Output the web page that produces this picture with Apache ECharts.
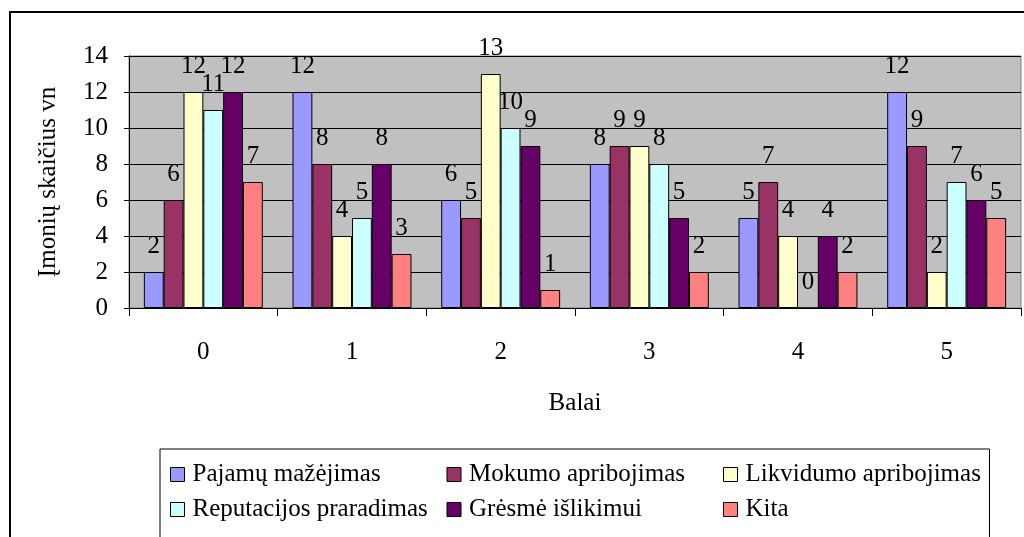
<!DOCTYPE html>
<html>
<head>
<meta charset="utf-8">
<script src="https://cdn.jsdelivr.net/npm/echarts@6/dist/echarts.min.js"></script>
<style>
  html, body { margin: 0; padding: 0; background: #fff; }
  #chart { width: 1024px; height: 537px; }
</style>
</head>
<body>
<div id="chart"></div>
<script>
// balai (x kategorijos)
const categories = ['0', '1', '2', '3', '4', '5'];
const seriesNames = ['Pajamų mažėjimas', 'Mokumo apribojimas', 'Likvidumo apribojimas',
  'Reputacijos praradimas', 'Grėsmė išlikimui', 'Kita'];
const pajamu = [2, 12, 6, 8, 5, 12];
const mokumo = [6, 8, 5, 9, 7, 9];
const likvidumo = [12, 4, 13, 9, 4, 2];
const reputacijos = [11, 5, 10, 8, 0, 7];
const gresme = [12, 8, 9, 5, 4, 6];
const kita = [7, 3, 1, 2, 2, 5];
const yTicks = [0, 2, 4, 6, 8, 10, 12, 14];

const colors = ['#9999FF', '#993366', '#FFFFCC', '#CCFFFF', '#660066', '#FF8080'];
const font = '"Liberation Serif", "Times New Roman", serif';
const fs = 25;
const allData = [pajamu, mokumo, likvidumo, reputacijos, gresme, kita];

const myChart = echarts.init(document.getElementById('chart'));
const option = {
  animation: false,
  color: colors,
  textStyle: { fontFamily: font, color: '#000' },
  graphic: [{
    type: 'rect',
    shape: { x: 10, y: 12, width: 1200, height: 700 },
    style: { fill: 'none', stroke: '#000', lineWidth: 2 },
    z: -1
  }],
  grid: {
    left: 129, right: 3, top: 56, bottom: 229,
    show: true, backgroundColor: '#C0C0C0', borderColor: '#808080', borderWidth: 1
  },
  legend: {
    left: 160, top: 449,
    width: 840,
    orient: 'horizontal',
    itemWidth: 14, itemHeight: 14, itemGap: 10,
    padding: [13, 0, 40, 10],
    borderColor: '#000', borderWidth: 1,
    icon: 'rect',
    itemStyle: { borderColor: '#000', borderWidth: 1 },
    textStyle: { fontFamily: font, fontSize: fs, width: 244, lineHeight: 25, color: '#000', padding: [0, 0, 0, 3] },
    data: seriesNames
  },
  xAxis: {
    type: 'category',
    data: categories,
    name: 'Balai',
    nameLocation: 'middle',
    nameGap: 83,
    nameTextStyle: { fontFamily: font, fontSize: fs, color: '#000' },
    axisLine: { lineStyle: { color: '#000', width: 1 } },
    axisTick: { show: true, length: 8, lineStyle: { color: '#000' } },
    axisLabel: { fontFamily: font, fontSize: fs, color: '#000', margin: 32 },
    splitLine: { show: false }
  },
  yAxis: {
    type: 'value',
    min: yTicks[0], max: yTicks[yTicks.length - 1], interval: 2,
    name: 'Įmonių skaičius vn',
    nameLocation: 'middle',
    nameGap: 68,
    nameTextStyle: { fontFamily: font, fontSize: fs, color: '#000' },
    axisLine: { show: true, lineStyle: { color: '#000', width: 1 } },
    axisTick: { show: true, length: 5, lineStyle: { color: '#000' } },
    axisLabel: { fontFamily: font, fontSize: fs, color: '#000', margin: 21 },
    splitLine: { show: true, lineStyle: { color: '#000', width: 1 } }
  },
  series: seriesNames.map((name, i) => ({
    name: name,
    type: 'bar',
    data: allData[i],
    barGap: '0%',
    barCategoryGap: '20%',
    itemStyle: { color: colors[i], borderColor: '#000', borderWidth: 1 },
    label: {
      show: true, position: 'top', distance: 13,
      fontFamily: font, fontSize: fs, color: '#000'
    }
  }))
};
myChart.setOption(option);
</script>
</body>
</html>
